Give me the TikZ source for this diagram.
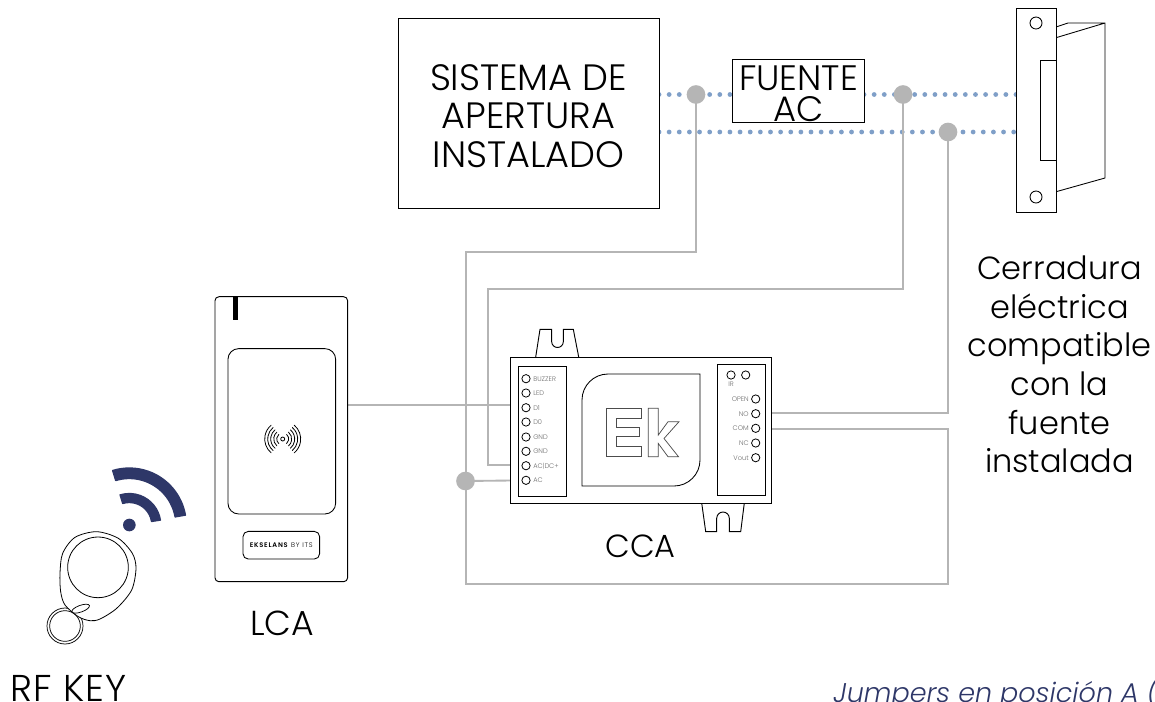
\documentclass[tikz,border=0pt]{standalone}
\usepackage{fontspec}
\usetikzlibrary{calc}
\setmainfont{Poppins}[UprightFont=* Light,ItalicFont=* Light Italic,BoldFont=* SemiBold]
\definecolor{wiregray}{HTML}{B5B5B5}
\definecolor{dotblue}{HTML}{7F9FC8}
\definecolor{navy}{HTML}{2E3768}
\definecolor{pingray}{HTML}{6E6E6E}
\tikzset{
  outl/.style={draw=black,line width=0.7pt,fill=white},
  thinl/.style={draw=black,line width=0.65pt},
  wire/.style={draw=wiregray,line width=1.4pt},
  dotline/.style={draw=dotblue,line width=3.6pt,line cap=round,dash pattern=on 0pt off 7.6pt},
  junction/.style={circle,fill=wiregray,draw=none,minimum size=14pt,inner sep=0pt},
  bigtext/.style={font=\fontsize{24}{29}\selectfont,text=black,inner sep=0pt,align=center},
  pinc/.style={circle,draw=black,line width=0.6pt,fill=white,minimum size=6.2pt,inner sep=0pt},
  pinlab/.style={font=\fontsize{5}{6}\selectfont,text=pingray,inner sep=0pt},
  wifi/.style={fill=navy,draw=navy,line width=1pt,line join=round},
}
\begin{document}
\begin{tikzpicture}[x=0.75pt,y=-0.75pt]
\useasboundingbox (0,0) rectangle (1155,701);
\clip (0,0) rectangle (1155,701);
\fill[white] (0,0) rectangle (1155,701);

% named free ends
\coordinate (sisU) at (659,94.5);
\coordinate (sisL) at (659,132);
\coordinate (fteL) at (732,94.5);
\coordinate (fteR) at (864,94.5);
\coordinate (lockU) at (1016,94.5);
\coordinate (lockL) at (1016,132);
\coordinate (c1) at (696,252);
\coordinate (c2) at (466,252);
\coordinate (c3) at (466,584);
\coordinate (c4) at (948,584);
\coordinate (c5) at (948,429);
\coordinate (c6) at (771,429);
\coordinate (c7) at (903,289);
\coordinate (c8) at (488,289);
\coordinate (c9) at (488,465);
\coordinate (c10) at (511,465);
\coordinate (c11) at (948,413);
\coordinate (c12) at (771,413);
\coordinate (c13) at (511,480.5);
\coordinate (c14) at (348,405);
\coordinate (c15) at (511,405);

% dotted supply lines
\draw[dotline] (sisU) -- (fteL);
\draw[dotline] (fteR) -- (lockU);
\draw[dotline] (sisL) -- (lockL);

% junctions
\node[junction] (j1) at (696,94.5) {};
\node[junction] (j2) at (903,94.5) {};
\node[junction] (j3) at (948,132) {};
\node[junction] (j4) at (465.5,481) {};

% wires
\draw[wire] (j1.center) -- (c1) -- (c2) -- (c3) -- (c4) -- (c5) -- (c6);
\draw[wire] (j2.center) -- (c7) -- (c8) -- (c9) -- (c10);
\draw[wire] (j3.center) -- (c11) -- (c12);
\draw[wire] (j4.center) -- (c13);
\draw[wire] (c14) -- (c15);

% boxes
\node[outl,minimum width=195.75pt,minimum height=142.5pt,inner sep=0pt] (sis) at (528.5,113) {};
\node[inner sep=0pt,align=center,font=\fontsize{27.5}{29}\selectfont] (sist) at (528.5,116)
  {SISTEMA DE\\APERTURA\\INSTALADO};
\node[outl,minimum width=99pt,minimum height=47.25pt,inner sep=0pt] (fte) at (798,90.5) {};
\node[inner sep=0pt,align=center,font=\fontsize{26.5}{23.5}\selectfont] (ftet) at (798.5,94)
  {FUENTE\\AC};

% lock
\draw[thinl,fill=white] (1056,27) -- (1068,23) -- (1105,23) -- (1105,178) -- (1055,192) -- (1055,38) -- (1105,23);
\node[outl,minimum width=29.5pt,minimum height=153pt,inner sep=0pt] (plate) at (1036.3,110) {};
\draw[thinl,fill=white] (1056,60.5) -- (1040,60.5) -- (1040,160) -- (1056,160);
\node[circle,thinl,fill=white,minimum size=9pt,inner sep=0pt] (h1) at (1036,23) {};
\node[circle,thinl,fill=white,minimum size=9pt,inner sep=0pt] (h2) at (1036,197) {};

% lock caption
\node[bigtext] (cer) at (1059.5,364.5)
  {Cerradura\\eléctrica\\compatible\\con la\\fuente\\instalada};

% CCA body
\draw[outl] (535.7,357) -- (540,329.3) -- (551.7,329.3) -- (551.7,341.7) arc (180:0:5.8) -- (563.3,329.3) -- (573.3,329.3) -- (578.7,357);
\draw[outl] (701.7,503) -- (705.7,531.7) -- (716.7,531.7) -- (716.7,518.3) arc (-180:0:6.3) -- (729.3,531.7) -- (740.7,531.7) -- (744.3,503);
\node[outl,minimum width=195.75pt,minimum height=109.5pt,inner sep=0pt] (cca) at (640.5,430) {};
\node[outl,minimum width=36pt,minimum height=97.5pt,inner sep=0pt] (stripL) at (542,431) {};
\node[outl,minimum width=36pt,minimum height=98.25pt,inner sep=0pt] (stripR) at (741,429.5) {};
% logo
\draw[thinl] (582,400) arc (180:270:26) -- (700,374) -- (700,460) arc (0:90:26) -- (582,486) -- cycle;
\draw[draw=black!70,line width=0.55pt] (606.7,408.3) -- (641.7,408.3) -- (641.7,418.3) -- (616.7,418.3) -- (616.7,427.7) -- (639,427.7) -- (639,436.7) -- (616.7,436.7) -- (616.7,446.7) -- (641.7,446.7) -- (641.7,456.7) -- (606.7,456.7) -- cycle;
\draw[draw=black!70,line width=0.55pt] (648.3,408.3) -- (658.3,408.3) -- (658.3,435) -- (668,421.7) -- (679,421.7) -- (664,438.5) -- (678.5,456.7) -- (668,456.7) -- (658.3,443.5) -- (658.3,456.7) -- (648.3,456.7) -- cycle;
% left pins
\foreach \n/\y/\t in {1/378.7/BUZZER,2/393/LED,3/407.7/D1,4/422/D0,5/437/GND,6/451.3/GND,7/465.7/AC|DC+,8/480.3/AC}{
  \node[pinc] (pl\n) at (526,\y) {};
  \node[pinlab,anchor=west] (pll\n) at (533,\y) {\t};
}
% right pins
\foreach \n/\y/\t in {1/399/OPEN,2/413.7/NO,3/428.3/COM,4/443/NC,5/457.7/Vout}{
  \node[pinc] (pr\n) at (755.7,\y) {};
  \node[pinlab,anchor=east] (prl\n) at (749,\y) {\t};
}
\node[pinc] (ir1) at (731,375) {};
\node[pinc] (ir2) at (745.7,375) {};
\node[pinlab] (irl) at (731,384.5) {IR};
\node[bigtext] (ccal) at (640.5,546) {CCA};

% LCA reader
\node[outl,rounded corners=3pt,minimum width=99.5pt,minimum height=213.75pt,inner sep=0pt] (lca) at (281.3,439.2) {};
\fill[black] (232.8,296.5) rectangle (238,320);
\node[thinl,rounded corners=8pt,minimum width=80.75pt,minimum height=124pt,inner sep=0pt] (win) at (281.8,431.3) {};
\node[thinl,rounded corners=4pt,minimum width=57.5pt,minimum height=20.75pt,inner sep=0pt,font=\fontsize{5}{6}\selectfont] (badge) at (281.3,545.2) {\addfontfeature{LetterSpace=12}\textbf{EKSELANS} BY ITS};
\node[circle,draw=black,line width=0.6pt,minimum size=3pt,inner sep=0pt] (rf) at (282.7,439) {};
\foreach \r in {6,9,12,15,18}{
  \draw[black,line width=0.6pt,line cap=round] ($(rf.center)+(-50:\r)$) arc (-50:50:\r);
  \draw[black,line width=0.6pt,line cap=round] ($(rf.center)+(130:\r)$) arc (130:230:\r);
}
\node[font=\fontsize{26}{29}\selectfont,inner sep=0pt] (lcal) at (282,623) {LCA};

% RF key
\begin{scope}[shift={(0,450)}]
\begin{scope}[x=0.25pt,y=-0.25pt]
  \draw[black,line width=0.55pt] (195,528) circle (54);
  \draw[black,line width=0.55pt] (195,528) circle (46);
  \draw[black,line width=0.6pt,fill=white] plot[smooth cycle] coordinates {(180,370) (188,310) (225,262) (290,245) (355,265) (397,310) (408,355) (395,420) (350,475) (300,507) (270,512) (235,500) (195,465) (182,425)};
  \draw[black,line width=0.6pt] (294,352) circle (91);
  \draw[black,line width=0.55pt,rotate around={20:(242,476)}] (242,476) ellipse (28 and 10);
  \fill[navy] (388,225) circle (19);
\end{scope}
\end{scope}
\coordinate (wc) at (129.3,525);
\draw[wifi] ($(wc)+(-107:22.5)$) arc (-107:-9:22.5) -- ($(wc)+(-9:31.5)$) arc (-9:-107:31.5) -- cycle;
\draw[wifi] ($(wc)+(-107:46.5)$) arc (-107:-10:46.5) -- ($(wc)+(-10:57)$) arc (-10:-107:57) -- cycle;
\node[font=\fontsize{28}{29}\selectfont,inner sep=0pt,anchor=base west] (rfk) at (10,701) {\addfontfeature{LetterSpace=3}RF KEY};
\node[font=\fontsize{20.3}{24}\selectfont\itshape,text=navy,inner sep=0pt,anchor=base west] (jmp) at (833,702) {Jumpers en posición A (d};
\end{tikzpicture}
\end{document}
